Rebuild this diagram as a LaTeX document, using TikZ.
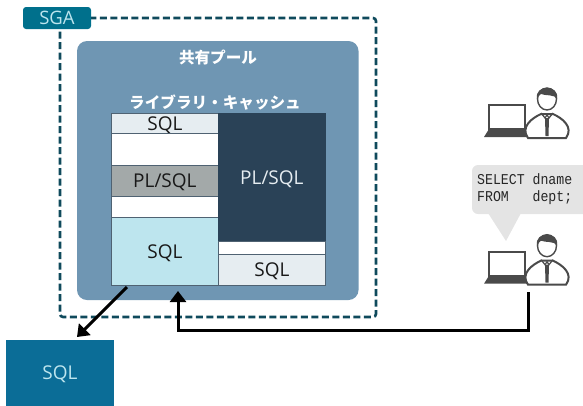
\documentclass[tikz,border=0pt]{standalone}
\usepackage{fontspec}
\setmainfont{Open Sans}
\newfontfamily\sqlmono[FakeStretch=0.88]{Liberation Mono}
\newfontfamily\jpfont{Noto Sans CJK JP}
\usetikzlibrary{calc,arrows.meta}
\definecolor{sgateal}{HTML}{00708C}
\definecolor{sgadash}{HTML}{0F4A5C}
\definecolor{poolblue}{HTML}{6F96B3}
\definecolor{cellline}{HTML}{4F6272}
\definecolor{sqlpale}{HTML}{E6EDF1}
\definecolor{sqlcyan}{HTML}{BDE5EE}
\definecolor{plgrey}{HTML}{A3A9A9}
\definecolor{pldark}{HTML}{2A4257}
\definecolor{sqlblue}{HTML}{0B6D97}
\definecolor{bubblegrey}{HTML}{E4E4E4}
\definecolor{usergrey}{HTML}{4A4A4A}
\tikzset{
  cell/.style={draw=cellline, line width=0.8pt, anchor=north west, inner sep=0pt, text depth=0pt, font=\fontsize{19}{19}\selectfont, text=black!90},
  flow/.style={line width=3pt, -{Triangle[length=11pt,width=16pt]}},
  poolcap/.style={text=white, font=\jpfont\bfseries\fontsize{15.6}{16}\selectfont, inner sep=0pt},
}
\newcommand{\drawuser}[2]{%
  \begin{scope}[shift={(#1,#2)}]
    % laptop
    \draw[usergrey, line width=1.8pt, fill=white] (4,0) rectangle (40,24);
    \fill[usergrey] (4,24) -- (40,24) -- (45,32) -- (-1,32) -- cycle;
    % body
    \draw[usergrey, line width=2pt, fill=white] (43,33) .. controls (35,22) and (47,13) .. (56,9) -- (68,9) .. controls (77,13) and (89,22) .. (81,33) -- cycle;
    \fill[usergrey] (60,13) -- (64,13) -- (63.5,31) -- (60.5,31) -- cycle;
    \draw[usergrey, line width=1.2pt] (56,8) -- (60,13) -- (62,10) -- (64,13) -- (68,8);
    % head
    \draw[usergrey, line width=1.4pt, fill=white] (62,-6) ellipse (9.5pt and 11pt);
    \fill[usergrey] (52,-6) .. controls (49,-21) and (75,-21) .. (72,-6) .. controls (70,-11) and (60,-9) .. (56,-11) .. controls (54,-10) and (53,-8) .. cycle;
  \end{scope}}
\begin{document}
\begin{tikzpicture}[x=1pt,y=-1pt]
  \useasboundingbox (0,0) rectangle (583,405);
  % SGA
  \draw[sgadash, line width=2.6pt, dash pattern=on 7pt off 3.5pt, rounded corners=3pt] (60,18) rectangle (376,317);
  \node[fill=sgateal, rounded corners=3pt, minimum width=68pt, minimum height=22pt, inner sep=0pt, text=sqlcyan, font=\fontsize{18.5}{18.5}\selectfont] (sga) at (57,18) {SGA};
  % pool
  \fill[poolblue, rounded corners=10pt] (77,41) rectangle (358.5,300);
  \node[poolcap] (pool) at (218,57) {共有プール};
  \node[poolcap] (cache) at (215,103) {ライブラリ・キャッシュ};
  % cells
  \node[cell, fill=sqlpale, minimum width=107pt, minimum height=20pt] (sqla) at (111,113) {SQL};
  \node[cell, fill=white, minimum width=107pt, minimum height=32pt] (blanka) at (111,133) {};
  \node[cell, fill=plgrey, minimum width=107pt, minimum height=31pt] (plgrey) at (111,165) {PL/SQL};
  \node[cell, fill=white, minimum width=107pt, minimum height=21pt] (blankb) at (111,196) {};
  \node[cell, fill=sqlcyan, minimum width=107pt, minimum height=67.5pt] (sqlb) at (111,217) {SQL};
  \node[cell, draw=pldark, fill=pldark, text=sqlpale, minimum width=107pt, minimum height=128pt] (pldark) at (218,113) {PL/SQL};
  \node[cell, fill=white, minimum width=107pt, minimum height=13pt] (blankc) at (218,241) {};
  \node[cell, fill=sqlpale, minimum width=107pt, minimum height=31pt] (sqlc) at (218,254) {SQL};
  % result
  \node[cell, draw=sqlblue, fill=sqlblue, text=sqlcyan, minimum width=107pt, minimum height=65pt] (sqlout) at (6,340) {SQL};
  % users
  \drawuser{485}{105}
  \drawuser{485}{251.7}
  % bubble
  \fill[bubblegrey, rounded corners=6pt] (472,165) rectangle (590,214);
  \fill[bubblegrey] (488,213) -- (506,241) -- (521,213) -- cycle;
  \node[anchor=west, inner sep=0pt, align=left, font=\sqlmono\fontsize{15}{17}\selectfont, text=black!85] (stmt) at (477,189.5) {SELECT dname\\FROM~~~dept;};
  % arrows
  \coordinate (outstart) at (127,287);
  \coordinate (outend) at (77,337);
  \coordinate (userfoot) at (528,292);
  \coordinate (backend) at (178,291);
  \draw[flow] (outstart) -- (outend);
  \draw[flow] (userfoot) |- (backend |- 0,330) -- (backend);
\end{tikzpicture}
\end{document}
